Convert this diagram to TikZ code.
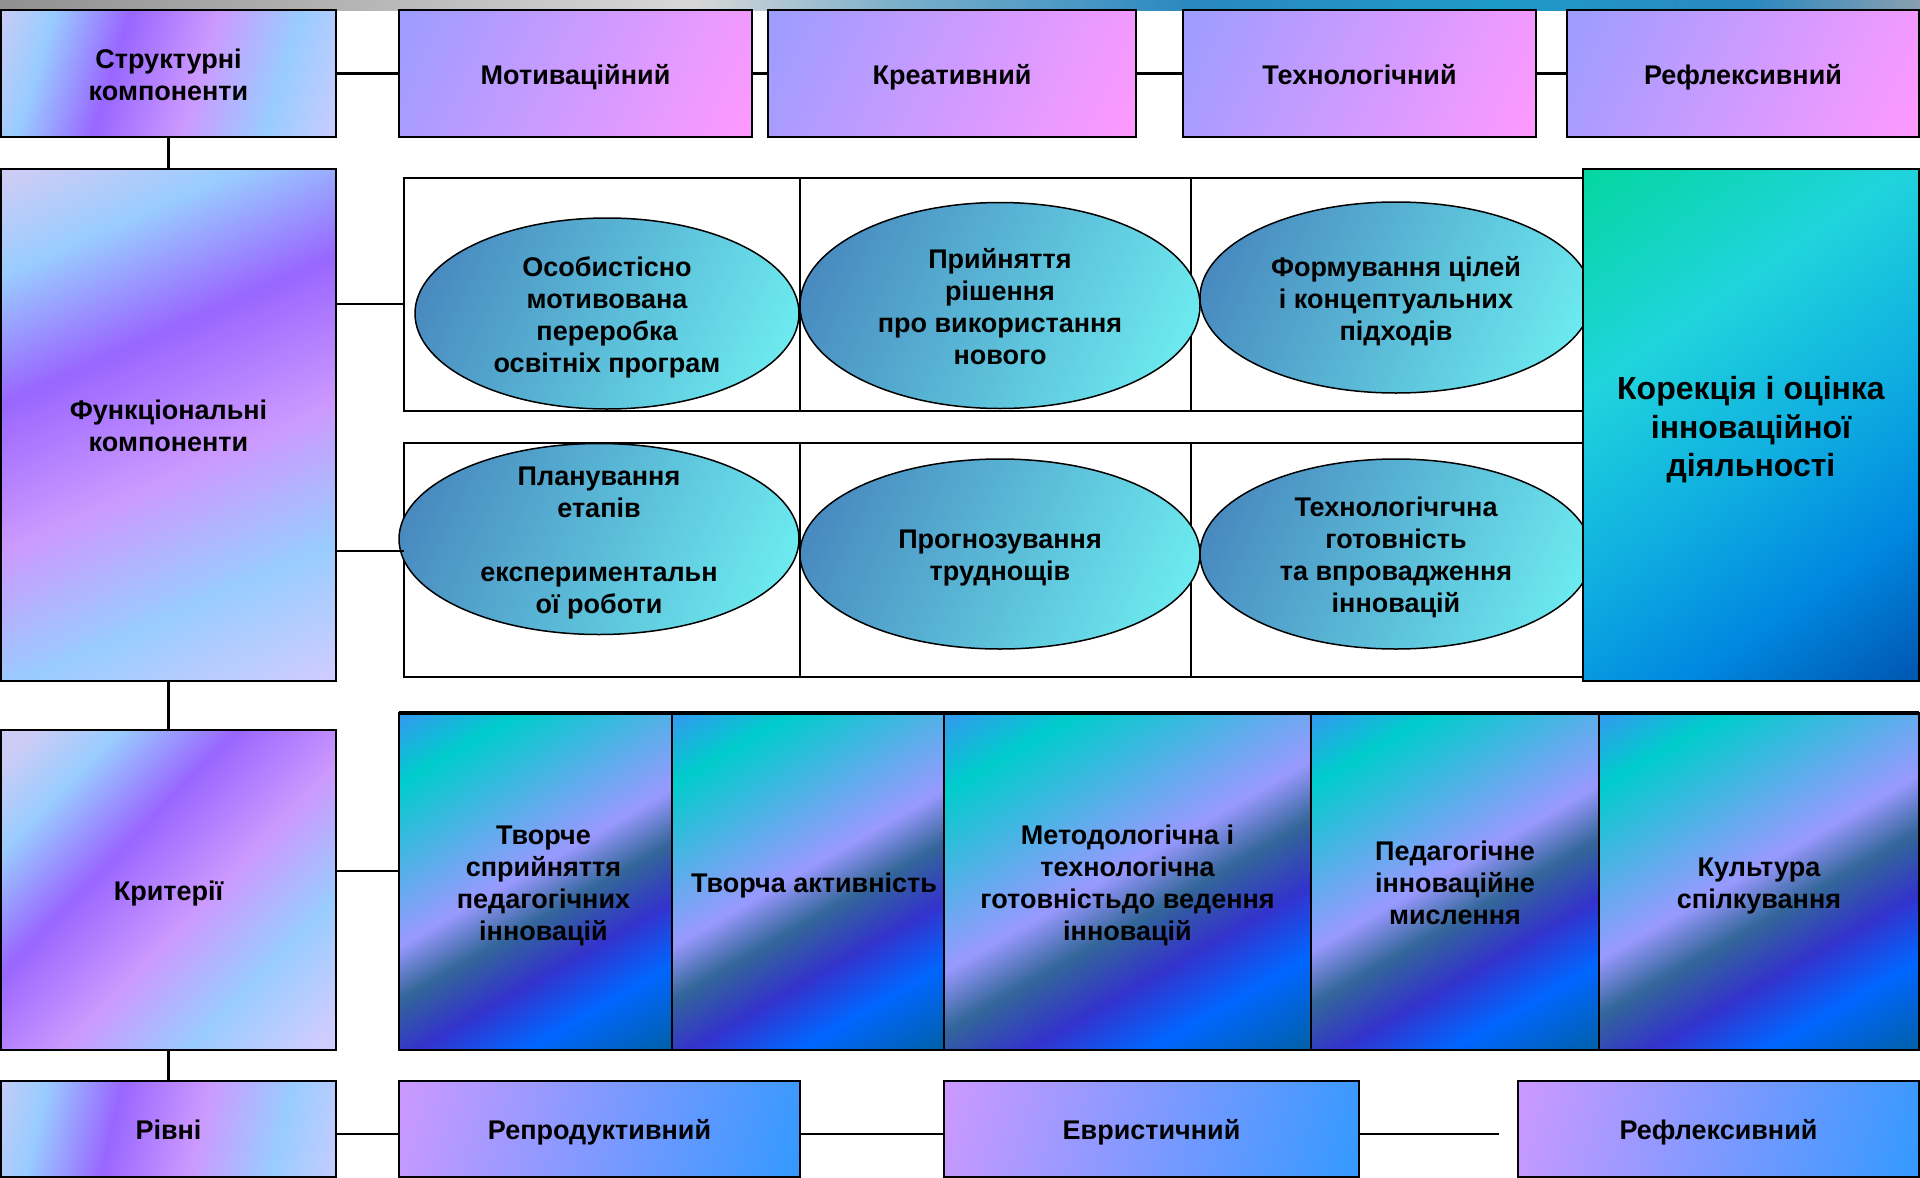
\documentclass[tikz,border=0pt]{standalone}
\usepackage{fontspec}
\setmainfont{Liberation Sans}
\usetikzlibrary{shapes.geometric}

\newcommand\Tst{\rule{0pt}{28pt}}
\newcommand\Tkor{\rule{0pt}{34pt}}

\definecolor{lA}{HTML}{CCCCF5}
\definecolor{lB}{HTML}{99CCFF}
\definecolor{lC}{HTML}{9966FF}
\definecolor{lD}{HTML}{CC99FF}
\definecolor{lE}{HTML}{CCCCFF}
\definecolor{tA}{HTML}{9C9CFF}
\definecolor{tB}{HTML}{FF99FF}
\definecolor{eA}{HTML}{4580BA}
\definecolor{eB}{HTML}{70F4F4}
\definecolor{kA}{HTML}{04D6A0}
\definecolor{kB}{HTML}{20D4DC}
\definecolor{kC}{HTML}{10B0E0}
\definecolor{kD}{HTML}{0088E0}
\definecolor{kE}{HTML}{0055B0}
\definecolor{cA}{HTML}{3399EE}
\definecolor{cB}{HTML}{00CCCC}
\definecolor{cC}{HTML}{9999FF}
\definecolor{cD}{HTML}{336699}
\definecolor{cE}{HTML}{3333CC}
\definecolor{cF}{HTML}{0066FF}
\definecolor{cG}{HTML}{0060A8}
\definecolor{vA}{HTML}{CC99FF}
\definecolor{vB}{HTML}{3399FF}
\definecolor{gA}{HTML}{909090}
\definecolor{gB}{HTML}{D8D8D8}
\definecolor{gC}{HTML}{7AAFCB}
\definecolor{gD}{HTML}{2A88C0}
\definecolor{gE}{HTML}{1E9AC8}
\definecolor{gF}{HTML}{8AA0B0}

\pgfdeclarehorizontalshading{leftsh}{100bp}{color(0bp)=(lA); color(18bp)=(lA); color(27.6bp)=(lB); color(40.4bp)=(lC); color(55.1bp)=(lD); color(69.2bp)=(lB); color(82bp)=(lE); color(100bp)=(lE)}
\pgfdeclarehorizontalshading{topsh}{100bp}{color(0bp)=(tA); color(17bp)=(tA); color(83bp)=(tB); color(100bp)=(tB)}
\pgfdeclarehorizontalshading{ellsh}{100bp}{color(0bp)=(eA); color(17bp)=(eA); color(83bp)=(eB); color(100bp)=(eB)}
\pgfdeclarehorizontalshading{korsh}{100bp}{color(0bp)=(kA); color(15.2bp)=(kA); color(36.1bp)=(kB); color(53.5bp)=(kC); color(69.5bp)=(kD); color(84.8bp)=(kE); color(100bp)=(kE)}
\pgfdeclarehorizontalshading{critsh}{100bp}{color(0bp)=(cA); color(15.85bp)=(cA); color(25.4bp)=(cB); color(48bp)=(cC); color(55.5bp)=(cD); color(63.7bp)=(cE); color(72.5bp)=(cF); color(84.15bp)=(cG); color(100bp)=(cG)}
\pgfdeclarehorizontalshading{levsh}{100bp}{color(0bp)=(vA); color(19.4bp)=(vA); color(80.6bp)=(vB); color(100bp)=(vB)}
\pgfdeclarehorizontalshading{bandsh}{100bp}{color(0bp)=(gA); color(25bp)=(gA); color(43bp)=(gB); color(48.4bp)=(gC); color(56bp)=(gD); color(64bp)=(gE); color(70.6bp)=(gD); color(75bp)=(gF); color(100bp)=(gF)}

\begin{document}
\begin{tikzpicture}[x=1pt,y=-1pt,
  wh/.style 2 args={minimum width=#1pt,minimum height=#2pt},
  txt/.style={font=\fontsize{27}{32}\selectfont\bfseries, align=center, text=black,
    execute at begin node={\rule{0pt}{28pt}},
    execute at end node={\rule[-6.5pt]{0pt}{6.5pt}}},
  box/.style={rectangle, draw=black, line width=2pt, inner sep=0pt, outer sep=0pt, txt},
  leftbox/.style={box, shade, shading=leftsh},
  compbox/.style={box, shade, shading=topsh, shading angle=-25},
  cellbox/.style={rectangle, draw=black, line width=2.8pt, fill=white, inner sep=0pt, outer sep=0pt},
  oval/.style={ellipse, draw=black, line width=1.5pt, inner sep=-30pt, outer sep=0pt, shade, shading=ellsh, shading angle=-25, txt},
  korbox/.style={box, shade, shading=korsh, shading angle=-55, font=\fontsize{32}{38.5}\selectfont\bfseries,
    execute at begin node={\rule{0pt}{34pt}},
    execute at end node={\rule[-7.2pt]{0pt}{7.2pt}}},
  critbox/.style={box, shade, shading=critsh, shading angle=-60},
  levbox/.style={box, shade, shading=levsh, shading angle=-15},
  conn/.style={draw=black, line width=2.8pt},
]
\fill[white] (0,0) rectangle (1920,1178);
\useasboundingbox (0,0) rectangle (1920,1178);
\shade[shading=bandsh] (0,0) rectangle (1920,10);

% scanned table of functional components
\node[cellbox, wh={396}{233}] (r1a) at (602,294.5) {};
\node[cellbox, wh={391}{233}] (r1b) at (995.5,294.5) {};
\node[cellbox, wh={392}{233}] (r1c) at (1387,294.5) {};
\node[cellbox, wh={396}{234}] (r2a) at (602,560) {};
\node[cellbox, wh={391}{234}] (r2b) at (995.5,560) {};
\node[cellbox, wh={392}{234}] (r2c) at (1387,560) {};

% ellipses
\node[oval, wh={384}{191}] (e1) at (607,313.5) {\Tst Особистісно\\мотивована\\переробка\\освітніх програм};
\node[oval, wh={400}{206}] (e2) at (1000,305.5) {\Tst Прийняття\\рішення\\про використання\\нового};
\node[oval, wh={392}{191}] (e3) at (1396,297.5) {\Tst Формування цілей\\і концептуальних\\підходів};
\node[oval, wh={400}{191}] (e4) at (599,539) {\Tst Планування\\етапів\\\strut\\експериментальн\\ої роботи};
\node[oval, wh={400}{190}] (e5) at (1000,554) {\Tst Прогнозування\\труднощів};
\node[oval, wh={392}{190}] (e6) at (1396,554) {\Tst Технологічгчна\\готовність\\та впровадження\\інновацій};

\node[korbox, wh={336}{512}] (kor) at (1751,425) {\Tkor Корекція і оцінка\\інноваційної\\діяльності};

% left column
\node[leftbox, shading angle=-17, wh={335}{127}] (str) at (168.5,73.5) {\Tst Структурні\\компоненти};
\node[leftbox, shading angle=-66, wh={335}{512}] (func) at (168.5,425) {\Tst Функціональні\\компоненти};
\node[leftbox, shading angle=-44, wh={335}{320}] (crit) at (168.5,890) {Критерії};
\node[leftbox, shading angle=-13, wh={335}{96}] (riv) at (168.5,1129) {Рівні};

% structural components
\node[compbox, wh={353}{127}] (mot) at (575.5,73.5) {Мотиваційний};
\node[compbox, wh={368}{127}] (kre) at (952,73.5) {Креативний};
\node[compbox, wh={353}{127}] (teh) at (1359.5,73.5) {Технологічний};
\node[compbox, wh={352}{127}] (ref) at (1743,73.5) {Рефлексивний};

% criteria
\node[critbox, wh={273}{337}] (k1) at (535.5,881.5) {\Tst\hspace*{16pt}Творче\\\hspace*{16pt}сприйняття\\\hspace*{16pt}педагогічних\\\hspace*{16pt}інновацій};
\node[critbox, wh={272}{337}] (k2) at (808,881.5) {\hspace*{12pt}Творча активність};
\node[critbox, wh={367}{337}] (k3) at (1127.5,881.5) {\Tst Методологічна і\\технологічна\\готовністьдо ведення\\інновацій};
\node[critbox, wh={288}{337}] (k4) at (1455,881.5) {\Tst Педагогічне\\інноваційне\\мислення};
\node[critbox, wh={320}{337}] (k5) at (1759,881.5) {\Tst Культура\\спілкування};
\draw[line width=4pt] (k1.north west) -- (k5.north east);

% levels
\node[levbox, wh={401}{96}] (rep) at (599.5,1129) {Репродуктивний};
\node[levbox, wh={415}{96}] (evr) at (1151.5,1129) {Евристичний};
\node[levbox, wh={401}{96}] (rf2) at (1718.5,1129) {Рефлексивний};

% connectors
\coordinate (j1) at (0,304);
\coordinate (j2) at (0,551);
\coordinate (j3) at (0,871);
\coordinate (j4) at (1499,1134);
\coordinate (j5) at (0,1134);
\draw[conn] (str.east) -- (mot.west);
\draw[conn] (mot.east) -- (kre.west);
\draw[conn] (kre.east) -- (teh.west);
\draw[conn] (teh.east) -- (ref.west);
\draw[conn] (str.south) -- (func.north);
\draw[conn] (func.east |- j1) -- (r1a.west |- j1);
\draw[conn] (func.east |- j2) -- (r2a.west |- j2);
\draw[conn] (func.south) -- (crit.north);
\draw[conn] (crit.east |- j3) -- (k1.west |- j3);
\draw[conn] (crit.south) -- (riv.north);
\draw[conn] (riv.east |- j5) -- (rep.west |- j5);
\draw[conn] (rep.east |- j5) -- (evr.west |- j5);
\draw[conn] (evr.east |- j5) -- (j4);
\end{tikzpicture}
\end{document}
